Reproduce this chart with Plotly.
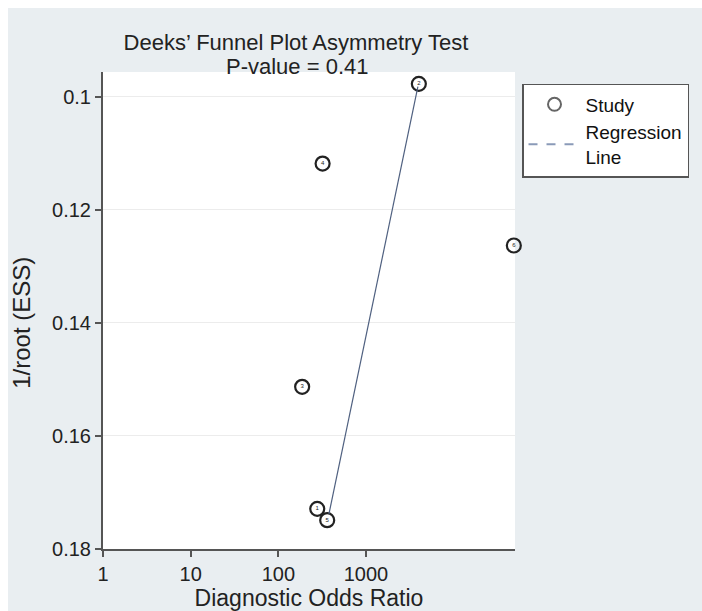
import plotly.graph_objects as go

# study data
study = ['1', '2', '3', '4', '5', '6']
dor = [278, 4010, 187, 320, 361, 48600]
inv_root_ess = [0.1729, 0.0977, 0.1513, 0.1118, 0.1749, 0.1263]

# regression line end points
reg_dor = [3910, 378]
reg_y = [0.0982, 0.1738]

xticks = [1, 10, 100, 1000]
yticks = [0.1, 0.12, 0.14, 0.16, 0.18]

FONT = 'Liberation Sans, Arial, sans-serif'
BG = '#e9eef1'

fig = go.Figure()

fig.add_trace(go.Scatter(x=dor, y=inv_root_ess, mode='markers+text', text=study,
                         textposition='middle center', textfont=dict(size=6, color='#222'),
                         marker=dict(symbol='circle-open', size=14, color='#222',
                                     line=dict(width=2.2, color='#222')),
                         name='Study', showlegend=False, cliponaxis=False))
fig.add_trace(go.Scatter(x=reg_dor, y=reg_y, mode='lines',
                         line=dict(color='#4f6080', width=1.2),
                         showlegend=False, hoverinfo='skip'))

# legend-only entries (legend shows gray circle and dashed line)
fig.add_trace(go.Scatter(x=[None], y=[None], mode='markers', name='Study',
                         marker=dict(symbol='circle-open', size=13, color='#666',
                                     line=dict(width=2, color='#666'))))
fig.add_trace(go.Scatter(x=[None], y=[None], mode='lines', name='Regression<br>Line',
                         line=dict(color='#8a9ab8', width=2, dash='dash')))

fig.update_layout(
    width=702, height=611,
    margin=dict(l=95, r=195, t=64, b=66),
    paper_bgcolor=BG, plot_bgcolor='white',
    font=dict(family=FONT, color='#222', size=20),
    title=dict(text='Deeks’ Funnel Plot Asymmetry Test',
               x=288/702, xref='container', xanchor='center',
               y=1-34/611, yref='container', yanchor='middle',
               font=dict(size=22, family=FONT, color='#222')),
    annotations=[dict(text='P-value = 0.41', xref='paper', yref='paper',
                      x=(289-95)/412, y=1.0125, xanchor='center', yanchor='middle',
                      showarrow=False, font=dict(size=22, family=FONT, color='#222')),
                 dict(text='1/root (ESS)', xref='paper', yref='paper', textangle=-90,
                      x=-0.197, y=0.474, xanchor='center', yanchor='middle',
                      showarrow=False, font=dict(size=24, family=FONT, color='#222'))],
    legend=dict(x=1.017, y=0.975, xanchor='left', yanchor='top',
                bgcolor='white', bordercolor='#555', borderwidth=1.5,
                font=dict(size=19, family=FONT, color='#111'),
                tracegroupgap=0, itemwidth=52),
)

fig.update_xaxes(type='log', range=[0, 4.70], tickvals=xticks, ticktext=[str(t) for t in xticks],
                 showgrid=False, zeroline=False, showline=True, linecolor='#555', linewidth=2,
                 ticks='outside', ticklen=6, tickcolor='#555', tickwidth=1.5,
                 tickfont=dict(size=20, family=FONT, color='#222'),
                 title=dict(text='Diagnostic Odds Ratio', standoff=6,
                            font=dict(size=23, family=FONT, color='#222')))
fig.update_yaxes(range=[0.18, 0.0956], tickvals=yticks, ticktext=['0.1', '0.12', '0.14', '0.16', '0.18'],
                 showgrid=True, gridcolor='#ececec', gridwidth=1, zeroline=False,
                 showline=True, linecolor='#555', linewidth=2,
                 ticks='outside', ticklen=6, tickcolor='#555', tickwidth=1.5,
                 tickfont=dict(size=20, family=FONT, color='#222'))

# white band only at top/left; the figure runs off the right/bottom edge like the reference
page_css = """
document.body.style.margin='8px 0 0 8px';
document.documentElement.style.overflow='hidden';
"""
fig.write_html('out.html', post_script=page_css)
